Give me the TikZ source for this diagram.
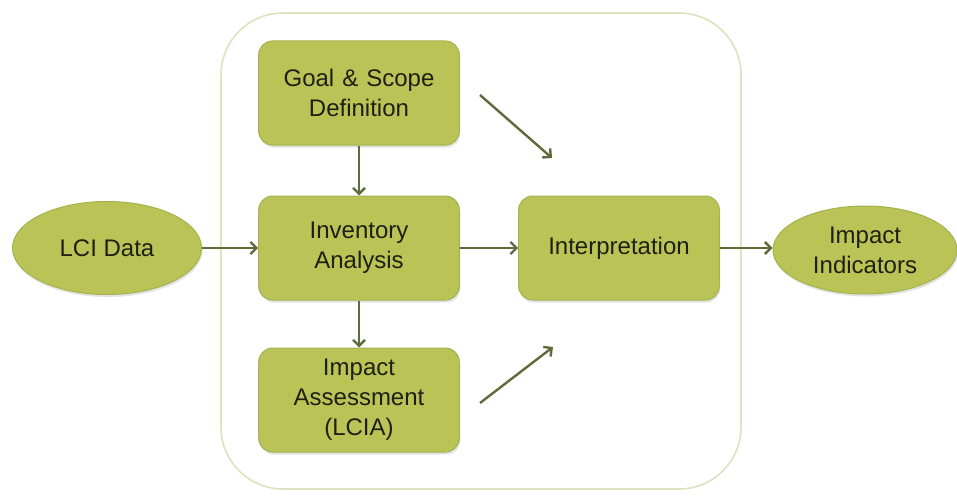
\documentclass[tikz,border=0pt]{standalone}
\usepackage{fontspec}
\setmainfont{Liberation Sans}
\usetikzlibrary{shapes.geometric,arrows.meta,shadows}
\definecolor{boxfill}{RGB}{186,196,86}
\definecolor{boxedge}{RGB}{165,177,78}
\definecolor{arrowc}{RGB}{94,108,60}
\definecolor{framec}{RGB}{222,226,190}
\definecolor{textc}{RGB}{30,32,20}
\tikzset{
  stagebox/.style={draw=boxedge, line width=1pt, fill=boxfill, rounded corners=14pt,
    minimum width=198pt, minimum height=104pt, text width=194pt, align=center,
    text=textc, font=\fontsize{24}{30}\selectfont,
    drop shadow={opacity=0.22, shadow xshift=1pt, shadow yshift=-2.5pt}},
  endell/.style={ellipse, draw=boxedge, line width=1pt, fill=boxfill, inner sep=0pt,
    align=center, text=textc, font=\fontsize{24}{30}\selectfont,
    drop shadow={opacity=0.22, shadow xshift=1pt, shadow yshift=-2.5pt}},
  flow/.style={draw=arrowc, line width=2.4pt, -{Straight Barb[length=6pt,width=12pt,line width=2.4pt]}},
  frame/.style={draw=framec, line width=1.6pt, rounded corners=62pt}
}
\begin{document}
\begin{tikzpicture}[x=1pt,y=-1pt]
\useasboundingbox (0,0) rectangle (957,495);
\fill[white] (0,0) rectangle (957,495);
\draw[frame] (221,13) rectangle (741,489);
\node[stagebox] (goal) at (359,93) {Goal \& Scope\\Definition};
\node[stagebox] (inv) at (359,248) {Inventory\\Analysis};
\node[stagebox] (lcia) at (359,400) {Impact\\Assessment\\(LCIA)};
\node[stagebox] (interp) at (619,248) {Interpretation};
\node[endell, minimum width=189pt, minimum height=93pt] (lci) at (107,248) {LCI Data};
\node[endell, minimum width=184pt, minimum height=88pt] (ind) at (865,250) {Impact\\Indicators};
\coordinate (d1s) at (480,95);
\coordinate (d1e) at (552,158);
\coordinate (d2s) at (480,403);
\coordinate (d2e) at (553,347);
\draw[flow] (goal) -- (inv);
\draw[flow] (inv) -- (lcia);
\draw[flow] (lci) -- (inv);
\draw[flow] (inv) -- (interp);
\draw[flow] (interp.east) -- (ind.west |- interp.east);
\draw[flow] (d1s) -- (d1e);
\draw[flow] (d2s) -- (d2e);
\end{tikzpicture}
\end{document}
